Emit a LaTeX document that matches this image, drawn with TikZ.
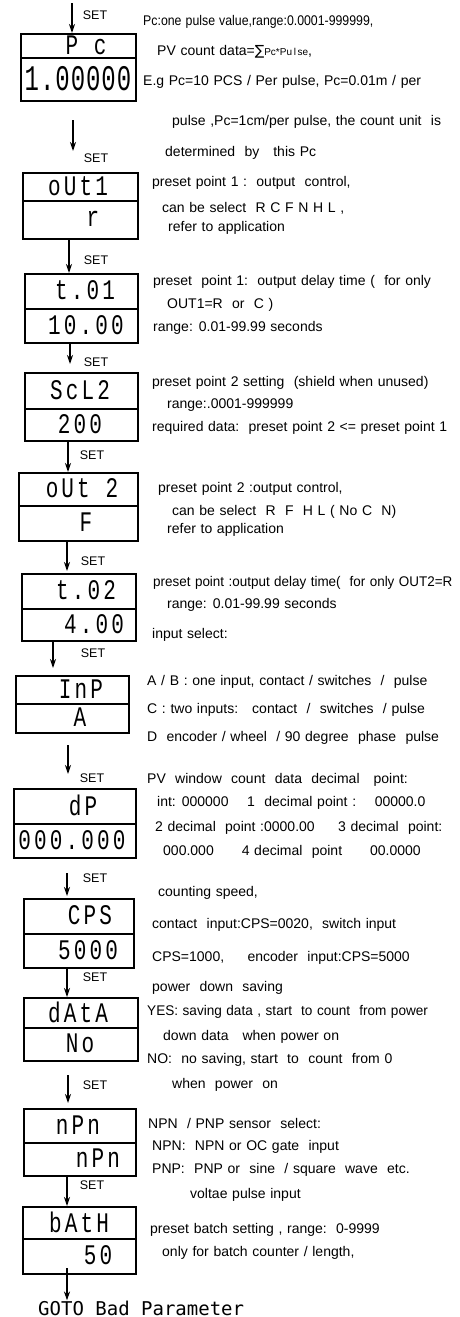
\documentclass[tikz,border=0pt]{standalone}
\usepackage{fontspec}
\setmainfont{Liberation Sans}[WordSpace=1.2]
\newfontfamily\segfont{Liberation Mono}[LetterSpace=15]
\newfontfamily\segfontb{Liberation Mono}[LetterSpace=4]
\newfontfamily\gotofont{DejaVu Sans Mono}
\newfontfamily\symfont{DejaVu Sans}
\newcommand{\dsp}[1]{\scalebox{1}[1.35]{#1}}
\usetikzlibrary{arrows.meta}
\tikzset{
  cell/.style={draw, line width=1.8pt, inner sep=0pt, anchor=north west},
  seg/.style={font=\segfont\fontsize{21}{21}\selectfont, inner sep=0pt},
  txt/.style={anchor=west, font=\fontsize{14}{16}\selectfont, inner sep=0pt},
  setl/.style={font=\fontsize{12.5}{12.5}\selectfont, inner sep=0pt},
  arr/.style={-{Stealth[length=9pt,width=6pt]}, line width=1.3pt},
  goto/.style={anchor=west, font=\gotofont\fontsize{19}{19}\selectfont, inner sep=0pt}
}
\begin{document}
\begin{tikzpicture}[x=1pt,y=-1pt]
\useasboundingbox (0,0) rectangle (459,1317);
% ---------- boxes ----------
\node[cell, minimum width=115pt, minimum height=24pt] (b1t) at (20,33) {};
\node[cell, minimum width=115pt, minimum height=43pt] (b1b) at (20,57) {};
\node[cell, minimum width=115pt, minimum height=28pt] (b2t) at (22,172) {};
\node[cell, minimum width=115pt, minimum height=38pt] (b2b) at (22,200) {};
\node[cell, minimum width=113pt, minimum height=35pt] (b3t) at (24,273) {};
\node[cell, minimum width=113pt, minimum height=34pt] (b3b) at (24,308) {};
\node[cell, minimum width=113pt, minimum height=36pt] (b4t) at (24,372) {};
\node[cell, minimum width=113pt, minimum height=32pt] (b4b) at (24,408) {};
\node[cell, minimum width=119pt, minimum height=33pt] (b5t) at (18,472) {};
\node[cell, minimum width=119pt, minimum height=35pt] (b5b) at (18,505) {};
\node[cell, minimum width=114pt, minimum height=35pt] (b6t) at (21,573) {};
\node[cell, minimum width=114pt, minimum height=32pt] (b6b) at (21,608) {};
\node[cell, minimum width=113pt, minimum height=28pt] (b7t) at (15,675) {};
\node[cell, minimum width=113pt, minimum height=29pt] (b7b) at (15,703) {};
\node[cell, minimum width=122pt, minimum height=35pt] (b8t) at (13,788) {};
\node[cell, minimum width=122pt, minimum height=34pt] (b8b) at (13,823) {};
\node[cell, minimum width=110pt, minimum height=35pt] (b9t) at (23,898) {};
\node[cell, minimum width=110pt, minimum height=34pt] (b9b) at (23,933) {};
\node[cell, minimum width=114pt, minimum height=30pt] (b10t) at (23,997) {};
\node[cell, minimum width=114pt, minimum height=33pt] (b10b) at (23,1027) {};
\node[cell, minimum width=112pt, minimum height=34pt] (b11t) at (23,1108) {};
\node[cell, minimum width=112pt, minimum height=33pt] (b11b) at (23,1142) {};
\node[cell, minimum width=113pt, minimum height=32pt] (b12t) at (22,1206) {};
\node[cell, minimum width=113pt, minimum height=35pt] (b12b) at (22,1238) {};
% ---------- display texts ----------
\node[seg] (d1t) at (86,45) {\dsp{P c}};
\node[seg, font=\segfontb\fontsize{24}{24}\selectfont] (d1b) at (78,79) {\scalebox{1}[1.5]{1.00000}};
\node[seg] (d2t) at (78,186) {\dsp{oUt1}};
\node[seg] (d2b) at (93,219) {\dsp{r}};
\node[seg] (d3t) at (85,290) {\dsp{t.01}};
\node[seg] (d3b) at (86,325) {\dsp{10.00}};
\node[seg] (d4t) at (80,390) {\dsp{ScL2}};
\node[seg] (d4b) at (80,424) {\dsp{200}};
\node[seg] (d5t) at (82,488) {\dsp{oUt 2}};
\node[seg] (d5b) at (86,522) {\dsp{F}};
\node[seg] (d6t) at (86,590) {\dsp{t.02}};
\node[seg] (d6b) at (94,624) {\dsp{4.00}};
\node[seg] (d7t) at (81,689) {\dsp{InP}};
\node[seg] (d7b) at (80,717) {\dsp{A}};
\node[seg] (d8t) at (83,805) {\dsp{dP}};
\node[seg] (d8b) at (72,840) {\dsp{000.000}};
\node[seg] (d9t) at (90,915) {\dsp{CPS}};
\node[seg] (d9b) at (88,950) {\dsp{5000}};
\node[seg] (d10t) at (78,1012) {\dsp{dAtA}};
\node[seg] (d10b) at (80,1043) {\dsp{No}};
\node[seg] (d11t) at (78,1125) {\dsp{nPn}};
\node[seg] (d11b) at (98,1158) {\dsp{nPn}};
\node[seg] (d12t) at (79,1222) {\dsp{bAtH}};
\node[seg] (d12b) at (98,1255) {\dsp{50}};
% ---------- arrows ----------
\coordinate (s0) at (72,3);
\draw[arr] (s0) -- (s0 |- b1t.north);
\node[setl] (set0) at (95,15) {SET};
\coordinate (s1) at (73,120); \coordinate (e1) at (73,151);
\draw[arr] (s1) -- (e1);
\node[setl] (set1) at (96,158) {SET};
\coordinate (s2) at (69,238);
\draw[arr] (s2 |- b2b.south) -- (s2 |- b3t.north);
\node[setl] (set2) at (96,260) {SET};
\coordinate (s3) at (70,342); \coordinate (e3) at (70,364);
\draw[arr] (s3 |- b3b.south) -- (e3);
\node[setl] (set3) at (96,362) {SET};
\coordinate (s4) at (68,440);
\draw[arr] (s4 |- b4b.south) -- (s4 |- b5t.north);
\node[setl] (set4) at (92,455) {SET};
\coordinate (s5) at (67,540); \coordinate (e5) at (67,571);
\draw[arr] (s5 |- b5b.south) -- (e5);
\node[setl] (set5) at (93,561) {SET};
\coordinate (s6) at (53,640); \coordinate (e6) at (53,668);
\draw[arr] (s6 |- b6b.south) -- (e6);
\node[setl] (set6) at (93,653) {SET};
\coordinate (s7) at (68,745); \coordinate (e7) at (68,774);
\draw[arr] (s7) -- (e7);
\node[setl] (set7) at (92,778) {SET};
\coordinate (s8) at (67,873); \coordinate (e8) at (67,896);
\draw[arr] (s8) -- (e8);
\node[setl] (set8) at (95,878) {SET};
\coordinate (s9) at (67,967);
\draw[arr] (s9 |- b9b.south) -- (s9 |- b10t.north);
\node[setl] (set9) at (95,977) {SET};
\coordinate (s10) at (68,1075); \coordinate (e10) at (68,1103);
\draw[arr] (s10) -- (e10);
\node[setl] (set10) at (95,1085) {SET};
\coordinate (s11) at (67,1175);
\draw[arr] (s11 |- b11b.south) -- (s11 |- b12t.north);
\node[setl] (set11) at (92,1185) {SET};
\coordinate (s12) at (67,1268);
\node[goto] (goto) at (38,1308) {GOTO Bad Parameter};
\draw[arr] (s12) -- (s12 |- goto.north);
% ---------- descriptions ----------
\node[txt] (t1a) at (143,22) {\scalebox{0.88}[1]{Pc:one pulse value,range:0.0001-999999,}};
\node[txt] (t1b) at (157,52) {PV count data={\symfont ∑}{\fontsize{10}{10}\selectfont Pc*Pu\,l\,se},};
\node[txt] (t1c) at (143,82) {E.g Pc=10 PCS / Per pulse, Pc=0.01m / per};
\node[txt] (t1d) at (172,122) {pulse ,Pc=1cm/per pulse, the count unit\ \ is};
\node[txt] (t1e) at (165,153) {determined\ \ by\ \ \ this Pc};
\node[txt] (t2a) at (152,183) {preset point 1 :\ \ output\ \ control,};
\node[txt] (t2b) at (162,208) {can be select\ \ R C F N H L ,};
\node[txt] (t2c) at (168,228) {refer to application};
\node[txt] (t3a) at (153,282) {preset\ \ point 1:\ \ output delay time (\ \ for only};
\node[txt] (t3b) at (167,305) {OUT1=R\ \ or\ \ C )};
\node[txt] (t3c) at (153,328) {range: 0.01-99.99 seconds};
\node[txt] (t4a) at (152,383) {preset point 2 setting\ \ (shield when unused)};
\node[txt] (t4b) at (167,405) {range:.0001-999999};
\node[txt] (t4c) at (152,428) {required data:\ \ preset point 2 <= preset point 1};
\node[txt] (t5a) at (158,489) {preset point 2 :output control,};
\node[txt] (t5b) at (172,512) {can be select\ \ R\ \ F\ \ H L ( No C\ \ N)};
\node[txt] (t5c) at (167,530) {refer to application};
\node[txt] (t6a) at (153,583) {\scalebox{0.96}[1]{preset point :output delay time(\ \ for only OUT2=R}};
\node[txt] (t6b) at (167,605) {range: 0.01-99.99 seconds};
\node[txt] (t6c) at (152,635) {input select:};
\node[txt] (t7a) at (147,682) {A / B : one input, contact / switches\ \ /\ \ pulse};
\node[txt] (t7b) at (147,710) {C : two inputs:\ \ \ contact\ \ /\ \ switches\ \ / pulse};
\node[txt] (t7c) at (147,738) {D\ \ encoder / wheel\ \ / 90 degree\ \ phase\ \ pulse};
\node[txt] (t8a) at (147,780) {PV\ \ window\ \ count\ \ data\ \ decimal\ \ \ point:};
\node[txt] (t8b) at (157,803) {int: 000000\ \ \ \ 1\ \ decimal point :\ \ \ \ 00000.0};
\node[txt] (t8c) at (155,828) {2 decimal\ \ point :0000.00\ \ \ \ \ 3 decimal\ \ point:};
\node[txt] (t8d) at (163,852) {000.000\ \ \ \ \ \ 4 decimal\ \ point\ \ \ \ \ \ 00.0000};
\node[txt] (t9a) at (158,893) {counting speed,};
\node[txt] (t9b) at (152,925) {contact\ \ input:CPS=0020,\ \ switch input};
\node[txt] (t9c) at (152,958) {CPS=1000,\ \ \ \ \ encoder\ \ input:CPS=5000};
\node[txt] (t9d) at (152,988) {power\ \ down\ \ saving};
\node[txt] (t10a) at (147,1012) {\scalebox{0.97}[1]{YES: saving data , start\ \ to count\ \ from power}};
\node[txt] (t10b) at (163,1037) {down data\ \ \ when power on};
\node[txt] (t10c) at (147,1060) {NO:\ \ no saving, start\ \ to\ \ count\ \ from 0};
\node[txt] (t10d) at (172,1085) {when\ \ power\ \ on};
\node[txt] (t11a) at (148,1123) {NPN\ \ / PNP sensor\ \ select:};
\node[txt] (t11b) at (152,1147) {NPN:\ \ NPN or OC gate\ \ input};
\node[txt] (t11c) at (152,1170) {PNP:\ \ PNP or\ \ sine\ \ / square\ \ wave\ \ etc.};
\node[txt] (t11d) at (190,1195) {voltae pulse input};
\node[txt] (t12a) at (150,1230) {preset batch setting , range:\ \ 0-9999};
\node[txt] (t12b) at (162,1253) {only for batch counter / length,};
\end{tikzpicture}
\end{document}
